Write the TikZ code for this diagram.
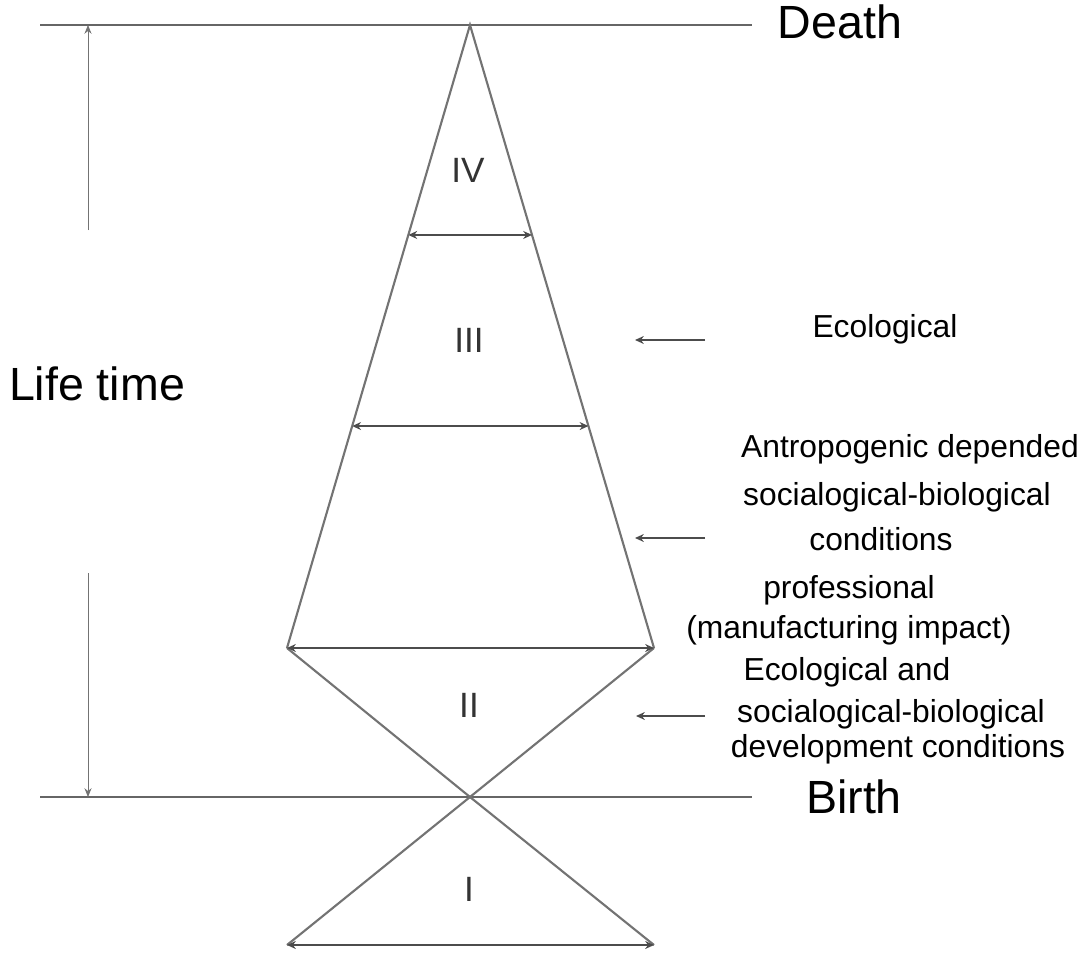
\documentclass[tikz,border=0pt]{standalone}
\usepackage{fontspec}
\setmainfont{Liberation Sans}
\usetikzlibrary{arrows.meta,calc}
\tikzset{
  edge/.style={draw=black!55, line width=1.2pt},
  baseline line/.style={draw=black!60, line width=1.1pt},
  dimarrow/.style={draw=black!70, line width=0.9pt, {Stealth[length=5pt,width=4.5pt]}-{Stealth[length=5pt,width=4.5pt]}},
  leftarrow/.style={draw=black!70, line width=0.9pt, -{Stealth[length=5pt,width=4.5pt]}},
  lifearrow/.style={draw=black!55, line width=0.5pt, -{Stealth[length=5pt,width=4pt]}},
  bigtext/.style={inner sep=0pt, anchor=base, font=\fontsize{26.5}{31}\selectfont},
  numeral/.style={inner sep=0pt, anchor=base, text=black!80, font=\fontsize{20}{24}\selectfont},
  factor/.style={inner sep=0pt, anchor=base, font=\fontsize{18.1}{22}\selectfont},
}
\begin{document}
\begin{tikzpicture}[x=0.02cm, y=-0.02cm]
\useasboundingbox[fill=white] (0,0) rectangle (1086,953);
% key points
\coordinate (apex) at (470,25);
\coordinate (L3) at (287,648);
\coordinate (R3) at (654,648);
\coordinate (cross) at (470,797);
\coordinate (L0) at (287,945);
\coordinate (R0) at (654,945);
\coordinate (dL) at (40,25);
\coordinate (dR) at (752,25);
\coordinate (bL) at (40,797);
\coordinate (bR) at (752,797);
\coordinate (L1) at ($(apex)!0.337!(L3)$);
\coordinate (R1) at ($(apex)!0.337!(R3)$);
\coordinate (L2) at ($(apex)!0.6437!(L3)$);
\coordinate (R2) at ($(apex)!0.6437!(R3)$);
% horizontal lines
\draw[baseline line] (dL) -- (dR);
\draw[baseline line] (bL) -- (bR);
% triangles
\draw[edge] (L3) -- (apex) -- (R3);
\draw[edge] (L3) -- (cross) -- (R0);
\draw[edge] (R3) -- (cross) -- (L0);
% width arrows
\draw[dimarrow] (L1) -- (R1);
\draw[dimarrow] (L2) -- (R2);
\draw[dimarrow] (L3) -- (R3);
\draw[dimarrow] (L0) -- (R0);
% life time arrows
\coordinate (lt1) at (88,230);
\coordinate (lt2) at (88,573);
\coordinate (lttop) at (88,25);
\coordinate (ltbot) at (88,797);
\draw[lifearrow] (lt1) -- (lttop);
\draw[lifearrow] (lt2) -- (ltbot);
% labels
\node[bigtext] (death) at (840,39) {Death};
\node[bigtext] (birth) at (854,813) {Birth};
\node[bigtext] (life) at (97,400) {Life time};
\node[numeral] (n4) at (468,183) {IV};
\node[numeral] (n3) at (469,352) {III};
\node[numeral] (n2) at (469,717) {II};
\node[numeral] (n1) at (469,901) {I};
% factor arrows
\coordinate (a1s) at (705,340);
\coordinate (a1e) at (635,340);
\coordinate (a2s) at (705,538);
\coordinate (a2e) at (635,538);
\coordinate (a3s) at (705,716);
\coordinate (a3e) at (636,716);
\draw[leftarrow] (a1s) -- (a1e);
\draw[leftarrow] (a2s) -- (a2e);
\draw[leftarrow] (a3s) -- (a3e);
% factor texts
\node[factor] (t1) at (885,337) {Ecological};
\node[factor] (t2) at (910,457) {Antropogenic depended};
\node[factor] (t3) at (897,505) {socialogical-biological};
\node[factor] (t4) at (881,550) {conditions};
\node[factor] (t5) at (849,598) {professional};
\node[factor] (t6) at (849,638) {(manufacturing impact)};
\node[factor] (t7) at (847,680) {Ecological and};
\node[factor] (t8) at (891,722) {socialogical-biological};
\node[factor] (t9) at (898,757) {development conditions};
\end{tikzpicture}
\end{document}
